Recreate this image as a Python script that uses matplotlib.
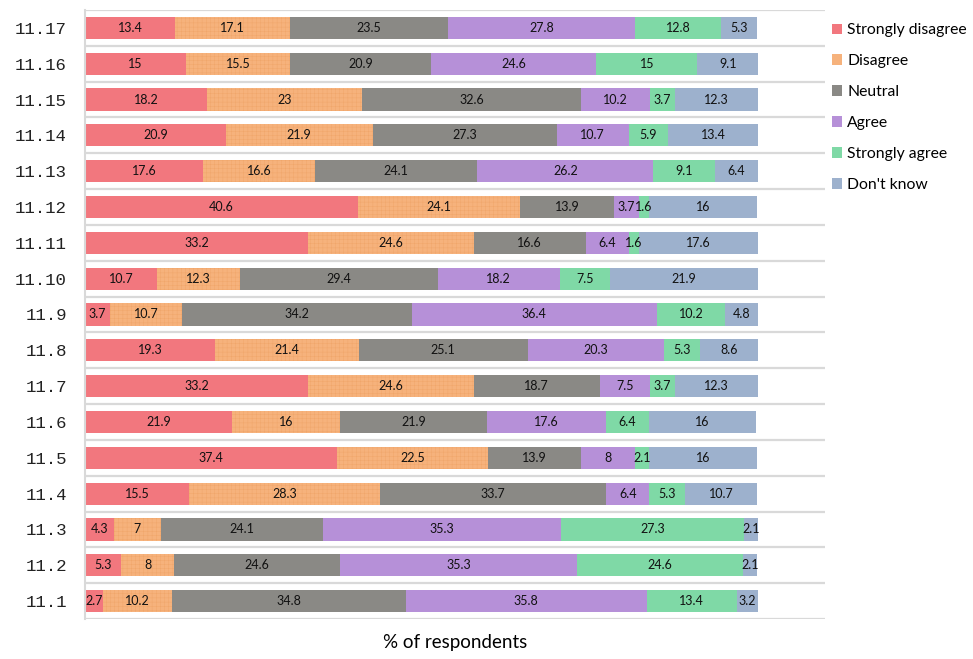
import numpy as np
import matplotlib
matplotlib.use('Agg')
import matplotlib.pyplot as plt
from matplotlib.patches import Patch

plt.rcParams['font.family'] = ['Lato', 'DejaVu Sans']
plt.rcParams['hatch.linewidth'] = 0.3

# questions, bottom to top
questions = ['11.1', '11.2', '11.3', '11.4', '11.5', '11.6', '11.7', '11.8', '11.9',
             '11.10', '11.11', '11.12', '11.13', '11.14', '11.15', '11.16', '11.17']

strongly_disagree = [2.7, 5.3, 4.3, 15.5, 37.4, 21.9, 33.2, 19.3, 3.7, 10.7, 33.2, 40.6, 17.6, 20.9, 18.2, 15, 13.4]
disagree = [10.2, 8, 7, 28.3, 22.5, 16, 24.6, 21.4, 10.7, 12.3, 24.6, 24.1, 16.6, 21.9, 23, 15.5, 17.1]
neutral = [34.8, 24.6, 24.1, 33.7, 13.9, 21.9, 18.7, 25.1, 34.2, 29.4, 16.6, 13.9, 24.1, 27.3, 32.6, 20.9, 23.5]
agree = [35.8, 35.3, 35.3, 6.4, 8, 17.6, 7.5, 20.3, 36.4, 18.2, 6.4, 3.7, 26.2, 10.7, 10.2, 24.6, 27.8]
strongly_agree = [13.4, 24.6, 27.3, 5.3, 2.1, 6.4, 3.7, 5.3, 10.2, 7.5, 1.6, 1.6, 9.1, 5.9, 3.7, 15, 12.8]
dont_know = [3.2, 2.1, 2.1, 10.7, 16, 16, 12.3, 8.6, 4.8, 21.9, 17.6, 16, 6.4, 13.4, 12.3, 9.1, 5.3]

series = [
    ('Strongly disagree', strongly_disagree, '#F2777E'),
    ('Disagree', disagree, '#F6B27C'),
    ('Neutral', neutral, '#8A8985'),
    ('Agree', agree, '#B690D8'),
    ('Strongly agree', strongly_agree, '#7FD9A6'),
    ("Don't know", dont_know, '#9DB1CD'),
]

fig = plt.figure(figsize=(9.73, 6.59), dpi=100)
ax = fig.add_axes([85 / 973, 1 - 619 / 659, 740 / 973, 609 / 659])

y = np.arange(len(questions))
left = np.zeros(len(questions))
for name, vals, color in series:
    vals = np.array(vals)
    if name == 'Disagree':
        ax.barh(y, vals, left=left, height=0.62, color=color,
                edgecolor='#EFA468', hatch='++++', linewidth=0, label=name)
    else:
        ax.barh(y, vals, left=left, height=0.62, color=color, linewidth=0, label=name)
    for xi, yi, v in zip(left, y, vals):
        ax.text(xi + v / 2, yi, f'{v:g}', ha='center', va='center', fontsize=9, color='#111111')
    left = left + vals

ax.set_xlim(0, 110)
ax.set_ylim(-0.5, len(questions) - 0.5)
ax.set_yticks(y)
ax.set_yticklabels(questions, family='Liberation Mono', fontsize=12.5, color='#222222')
ax.tick_params(axis='y', length=0, pad=13)
ax.set_xticks([])

# separator lines between rows
for b in np.arange(-0.5, len(questions), 1):
    ax.axhline(b, color='#D9D9D9', lw=1.6, zorder=0)

for s in ['top', 'right', 'bottom']:
    ax.spines[s].set_visible(False)
ax.spines['left'].set_color('#D9D9D9')
ax.spines['left'].set_linewidth(1.5)

ax.set_xlabel('% of respondents', fontsize=13.5, labelpad=11)

handles = [Patch(facecolor=c, label=n) for n, _, c in series]
fig.legend(handles=handles, loc='upper left', bbox_to_anchor=(826 / 973, 1 - 17 / 659),
           frameon=False, fontsize=11.3, handlelength=0.65, handleheight=0.65,
           handletextpad=0.3, labelspacing=1.08, borderaxespad=0)

fig.savefig('out.png', dpi=100)
